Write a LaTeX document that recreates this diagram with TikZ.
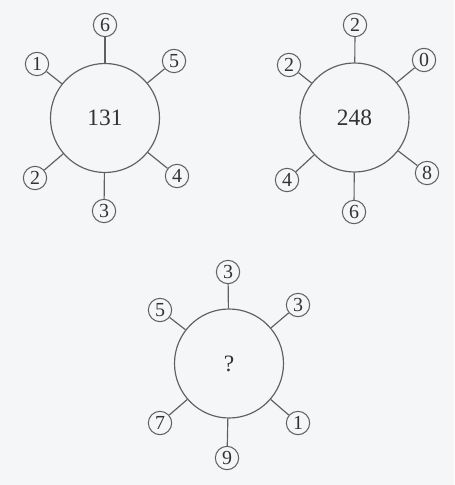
\documentclass[tikz,border=0pt]{standalone}
\usepackage{fontspec}
\setmainfont{Liberation Serif}
\usepackage{xcolor}
\definecolor{PaperGrey}{HTML}{F5F6F8}
\definecolor{InkGrey}{HTML}{606060}
\definecolor{TextGrey}{HTML}{333333}
\usepackage{tikz}
\usetikzlibrary{positioning}

\begin{document}
\begin{tikzpicture}[x=0.03cm,y=-0.03cm,
  hub/.style={draw=InkGrey,circle,line width=1pt,minimum size=3.27cm,inner sep=0pt,text=TextGrey,font=\fontsize{20}{20}\selectfont},
  leaf/.style={draw=InkGrey,circle,line width=0.9pt,minimum size=0.7cm,inner sep=0pt,text=TextGrey,font=\fontsize{17}{17}\selectfont},
  spoke/.style={InkGrey,line width=1pt}
]
  \fill[PaperGrey] (0,0) rectangle (454,485);
  \useasboundingbox (0,0) rectangle (454,485);

  % first wheel
  \node[hub] (hubA) at (105,118) {131};
  \node[leaf] (a6) at (105,25) {6};
  \node[leaf] (a5) at (174,61) {5};
  \node[leaf] (a1) at (37,64) {1};
  \node[leaf] (a2) at (35,178) {2};
  \node[leaf] (a3) at (104,211) {3};
  \node[leaf] (a4) at (177,176) {4};
  \draw[spoke] (hubA)--(a6);
  \draw[spoke] (hubA)--(a5);
  \draw[spoke] (hubA)--(a1);
  \draw[spoke] (hubA)--(a2);
  \draw[spoke] (hubA)--(a3);
  \draw[spoke] (hubA)--(a4);

  % second wheel
  \node[hub] (hubB) at (354.5,117.5) {248};
  \node[leaf] (b2t) at (355,25) {2};
  \node[leaf] (b0) at (424,60) {0};
  \node[leaf] (b2l) at (289,65) {2};
  \node[leaf] (b4) at (287,180) {4};
  \node[leaf] (b6) at (354,212) {6};
  \node[leaf] (b8) at (427,173) {8};
  \draw[spoke] (hubB)--(b2t);
  \draw[spoke] (hubB)--(b0);
  \draw[spoke] (hubB)--(b2l);
  \draw[spoke] (hubB)--(b4);
  \draw[spoke] (hubB)--(b6);
  \draw[spoke] (hubB)--(b8);

  % third wheel
  \node[hub] (hubC) at (229,363.5) {?};
  \node[leaf] (c3t) at (228,272) {3};
  \node[leaf] (c3r) at (298,305) {3};
  \node[leaf] (c5) at (160,310) {5};
  \node[leaf] (c7) at (160,423) {7};
  \node[leaf] (c9) at (227,458) {9};
  \node[leaf] (c1) at (298,423) {1};
  \draw[spoke] (hubC)--(c3t);
  \draw[spoke] (hubC)--(c3r);
  \draw[spoke] (hubC)--(c5);
  \draw[spoke] (hubC)--(c7);
  \draw[spoke] (hubC)--(c9);
  \draw[spoke] (hubC)--(c1);
\end{tikzpicture}
\end{document}
